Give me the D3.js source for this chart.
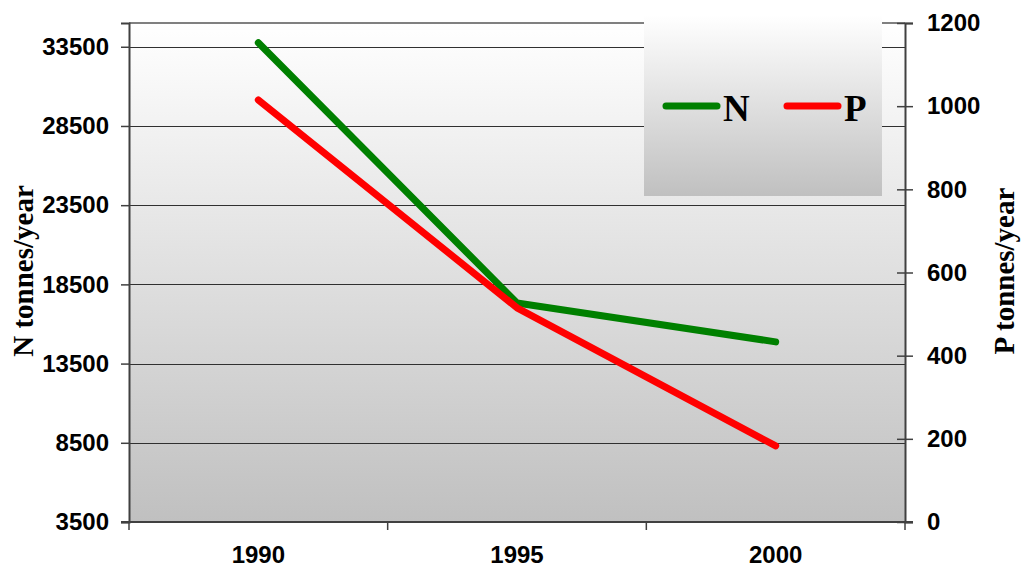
<!DOCTYPE html>
<html>
<head>
<meta charset="utf-8">
<script src="https://cdn.jsdelivr.net/npm/d3@7"></script>
<style>
  html, body { margin: 0; padding: 0; background: #ffffff; }
  svg { display: block; }
  .tick-label { font-family: "Liberation Sans", Arial, sans-serif; font-weight: bold; font-size: 24px; fill: #000; }
  .title { font-family: "Liberation Serif", "Times New Roman", serif; font-weight: bold; font-size: 29px; fill: #000; }
</style>
</head>
<body>
<svg id="chart" width="1025" height="568"></svg>
<script>
// Nutrient loads per reporting year
const years = ["1990", "1995", "2000"];
const nitrogen = [33750, 17330, 14870];   // N tonnes/year (left axis)
const phosphorus = [1015, 515, 183];      // P tonnes/year (right axis)
const leftTicks = [3500, 8500, 13500, 18500, 23500, 28500, 33500];
const rightTicks = [0, 200, 400, 600, 800, 1000, 1200];
const seriesNames = ["N", "P"];
const seriesColors = ["#008000", "#ff0000"];

const svg = d3.select("#chart");
const plot = { left: 129, right: 905, top: 23, bottom: 522 };

const x = d3.scaleBand().domain(years).range([plot.left, plot.right]).padding(0);
const yN = d3.scaleLinear().domain([3500, 35000]).range([plot.bottom, plot.top]);
const yP = d3.scaleLinear().domain([0, 1200]).range([plot.bottom, plot.top]);

const defs = svg.append("defs");
function grad(id) {
  const g = defs.append("linearGradient").attr("id", id)
    .attr("x1", 0).attr("y1", 0).attr("x2", 0).attr("y2", 1);
  g.append("stop").attr("offset", "0%").attr("stop-color", "#ffffff");
  g.append("stop").attr("offset", "100%").attr("stop-color", "#c0c0c0");
}
grad("plotFill");
grad("legendFill");

// plot background
svg.append("rect")
  .attr("x", plot.left).attr("y", plot.top)
  .attr("width", plot.right - plot.left).attr("height", plot.bottom - plot.top)
  .attr("fill", "url(#plotFill)");

// top frame edge
svg.append("line")
  .attr("x1", plot.left).attr("x2", plot.right)
  .attr("y1", plot.top).attr("y2", plot.top)
  .attr("stroke", "#808080").attr("stroke-width", 2);

// horizontal gridlines from the left axis
svg.append("g").selectAll("line")
  .data(leftTicks.filter(d => d !== 3500))
  .join("line")
  .attr("x1", plot.left).attr("x2", plot.right)
  .attr("y1", d => Math.round(yN(d)) + 0.5).attr("y2", d => Math.round(yN(d)) + 0.5)
  .attr("stroke", "#303030").attr("stroke-width", 1);

// left axis
const leftAxis = svg.append("g")
  .attr("transform", `translate(${plot.left},0)`)
  .call(d3.axisLeft(yN).tickValues(leftTicks).tickSize(8).tickPadding(12).tickFormat(d3.format("d")));
leftAxis.select(".domain").attr("stroke", "#404040").attr("stroke-width", 2);
leftAxis.selectAll(".tick line").attr("stroke", "#404040").attr("stroke-width", 1.5);
leftAxis.selectAll(".tick text").attr("class", "tick-label").attr("font-size", null).attr("font-family", null);

// right axis with crossing ticks
const rightAxis = svg.append("g")
  .attr("transform", `translate(${plot.right},0)`)
  .call(d3.axisRight(yP).tickValues(rightTicks).tickSize(8).tickPadding(14).tickFormat(d3.format("d")));
rightAxis.select(".domain").attr("stroke", "#404040").attr("stroke-width", 2);
rightAxis.selectAll(".tick line").attr("x1", -8).attr("stroke", "#404040").attr("stroke-width", 1.5);
rightAxis.selectAll(".tick text").attr("class", "tick-label").attr("font-size", null).attr("font-family", null);

// bottom axis: ticks at category boundaries
const bottom = svg.append("g");
bottom.append("line")
  .attr("x1", plot.left - 8).attr("x2", plot.right + 8)
  .attr("y1", plot.bottom).attr("y2", plot.bottom)
  .attr("stroke", "#404040").attr("stroke-width", 2);
const boundaries = years.map(d => x(d)).concat([x(years[years.length - 1]) + x.bandwidth()]);
bottom.selectAll("line.bt").data(boundaries).join("line").attr("class", "bt")
  .attr("x1", d => d).attr("x2", d => d)
  .attr("y1", plot.bottom).attr("y2", plot.bottom + 8)
  .attr("stroke", "#404040").attr("stroke-width", 1.5);
bottom.selectAll("text").data(years).join("text")
  .attr("class", "tick-label")
  .attr("x", d => x(d) + x.bandwidth() / 2)
  .attr("y", 563)
  .attr("text-anchor", "middle")
  .text(d => d);

// series lines
const cx = d => x(d) + x.bandwidth() / 2;
const lineN = d3.line().x((d, i) => cx(years[i])).y(d => yN(d));
const lineP = d3.line().x((d, i) => cx(years[i])).y(d => yP(d));
svg.append("path").datum(nitrogen).attr("d", lineN)
  .attr("fill", "none").attr("stroke", seriesColors[0]).attr("stroke-width", 7)
  .attr("stroke-linecap", "round").attr("stroke-linejoin", "round");
svg.append("path").datum(phosphorus).attr("d", lineP)
  .attr("fill", "none").attr("stroke", seriesColors[1]).attr("stroke-width", 7)
  .attr("stroke-linecap", "round").attr("stroke-linejoin", "round");

// legend
const legend = svg.append("g");
legend.append("rect")
  .attr("x", 644).attr("y", 15).attr("width", 238).attr("height", 181)
  .attr("fill", "url(#legendFill)");
const legendItems = [
  { name: seriesNames[0], color: seriesColors[0], x0: 666 },
  { name: seriesNames[1], color: seriesColors[1], x0: 787 }
];
legendItems.forEach(it => {
  legend.append("line")
    .attr("x1", it.x0).attr("x2", it.x0 + 51)
    .attr("y1", 106).attr("y2", 106)
    .attr("stroke", it.color).attr("stroke-width", 7).attr("stroke-linecap", "round");
  legend.append("text")
    .attr("x", it.x0 + 57).attr("y", 121)
    .attr("font-family", "'Liberation Serif', 'Times New Roman', serif")
    .attr("font-weight", "bold").attr("font-size", 37)
    .text(it.name);
});

// axis titles
svg.append("text").attr("class", "title")
  .attr("transform", `translate(33,271) rotate(-90)`)
  .attr("text-anchor", "middle")
  .text("N tonnes/year");
svg.append("text").attr("class", "title")
  .attr("transform", `translate(1014,271) rotate(-90)`)
  .attr("text-anchor", "middle")
  .text("P tonnes/year");
</script>
</body>
</html>
